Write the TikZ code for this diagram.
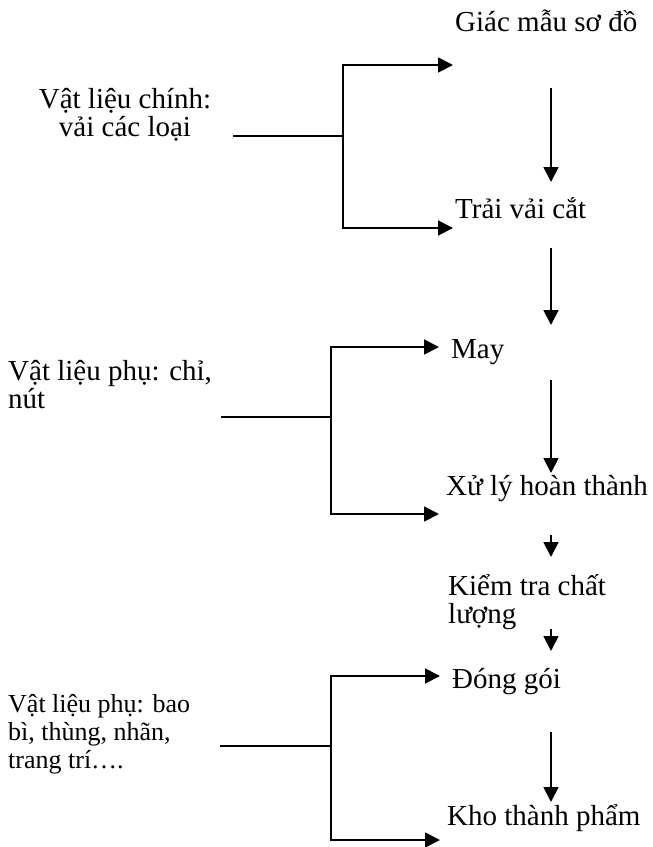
\documentclass[tikz,border=0pt]{standalone}
\usepackage{fontspec}
\setmainfont{Liberation Serif}
\usetikzlibrary{arrows.meta}
\tikzset{
  buoc/.style={anchor=base west, inner sep=0pt, align=left, font=\fontsize{29}{28}\selectfont},
  vatlieu/.style={buoc, font=\fontsize{26}{28}\selectfont},
  duong/.style={line width=1.8pt},
  muiten/.style={duong, -{Triangle[length=15pt,width=15pt]}},
}
\begin{document}
\begin{tikzpicture}[x=1pt,y=-1pt] %Quy trình may
  \useasboundingbox (0,0) rectangle (653,847);

  % cac buoc
  \node[buoc] (giac) at (455,31) {Giác mẫu sơ đồ};
  \node[buoc] (trai) at (455,218) {Trải vải cắt};
  \node[buoc] (may) at (451,358) {May};
  \node[buoc] (xuly) at (446,495) {Xử lý hoàn thành};
  \begin{scope}
    \clip (430,560) rectangle (653,629);
    \node[buoc] (kiemtra) at (448,623) {Kiểm tra chất\\lượng};
  \end{scope}
  \node[buoc] (donggoi) at (452,688) {Đóng gói};
  \node[buoc] (kho) at (447,825) {Kho thành phẩm};

  % vat lieu
  \node[buoc, anchor=base, align=center] (chinh) at (125,136) {Vật liệu chính:\\vải các loại};
  \node[buoc] (phu) at (8,408) {Vật liệu phụ: chỉ,\\nút};
  \node[vatlieu] (baobi) at (8,768) {Vật liệu phụ: bao\\bì, thùng, nhãn,\\trang trí….};

  % nhanh
  \coordinate (s1) at (233,136); \coordinate (j1) at (343,136);
  \coordinate (t1a) at (453,65); \coordinate (t1b) at (453,228);
  \coordinate (s2) at (221,417); \coordinate (j2) at (331,417);
  \coordinate (t2a) at (439,347); \coordinate (t2b) at (439,514);
  \coordinate (s3) at (220,746); \coordinate (j3) at (331,746);
  \coordinate (t3a) at (440,676); \coordinate (t3b) at (440,840);
  \foreach \i in {1,2,3} {
    \draw[duong] (s\i) -- (j\i);
    \draw[muiten] (j\i) |- (t\i a);
    \draw[muiten] (j\i) |- (t\i b);
  }

  % mui ten doc
  \foreach \a/\b in {88/182, 248/325, 380/473, 535/557, 629/651, 732/802}
    \draw[muiten] (551,\a) -- (551,\b);
\end{tikzpicture}
\end{document}
